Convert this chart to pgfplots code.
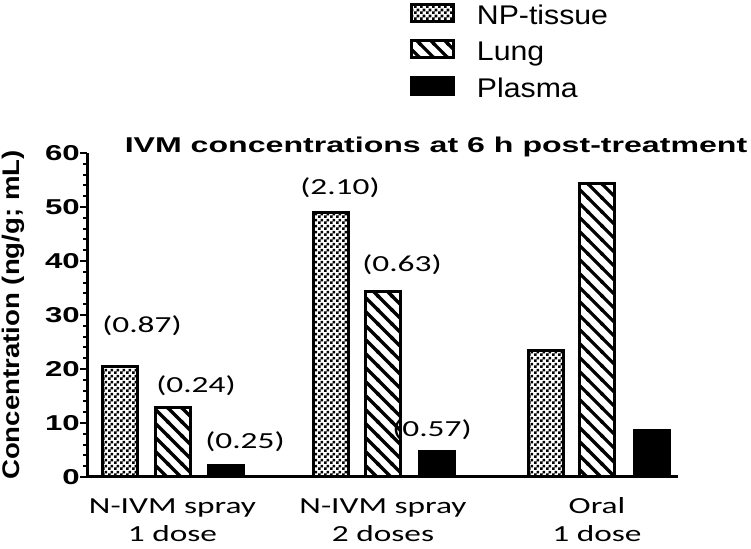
\documentclass[border=0pt]{standalone}
\usepackage{fontspec}
\usepackage{pgfplots}
\pgfplotsset{compat=1.18}
\usetikzlibrary{patterns}
\setmainfont{Liberation Sans}
\newfontfamily\titlef[FakeStretch=1.5]{Liberation Sans}
\newfontfamily\tickf[FakeStretch=1.45]{Liberation Sans}
\newfontfamily\ylabf[FakeStretch=1.15]{Liberation Sans}
\newfontfamily\legf[FakeStretch=1.12]{Liberation Sans}
\newfontfamily\calf[FakeStretch=1.45]{Carlito}

% fine checkerboard (NP-tissue)
\pgfdeclarepatternformonly{checks}{\pgfpointorigin}{\pgfqpoint{6pt}{6pt}}{\pgfqpoint{6pt}{6pt}}{%
  \pgfpathrectangle{\pgfpointorigin}{\pgfqpoint{3pt}{3pt}}%
  \pgfpathrectangle{\pgfqpoint{3pt}{3pt}}{\pgfqpoint{3pt}{3pt}}%
  \pgfusepath{fill}}
% thick back-slash hatching (Lung)
\pgfdeclarepatternformonly{thicknw}{\pgfqpoint{-2pt}{-2pt}}{\pgfqpoint{16pt}{16pt}}{\pgfqpoint{14pt}{14pt}}{%
  \pgfsetlinewidth{3.2pt}%
  \pgfpathmoveto{\pgfqpoint{-1pt}{15pt}}\pgfpathlineto{\pgfqpoint{15pt}{-1pt}}%
  \pgfpathmoveto{\pgfqpoint{-1pt}{1pt}}\pgfpathlineto{\pgfqpoint{1pt}{-1pt}}%
  \pgfpathmoveto{\pgfqpoint{13pt}{15pt}}\pgfpathlineto{\pgfqpoint{15pt}{13pt}}%
  \pgfusepath{stroke}}

\newcommand\annot{\calf\fontsize{23}{27}\selectfont}

\begin{document}
\begin{tikzpicture}
\useasboundingbox (0,0) rectangle (751pt,548pt);
\begin{axis}[
  at={(87pt,71pt)}, anchor=south west,
  scale only axis, width=591pt, height=324pt,
  xmin=87, xmax=678, ymin=0, ymax=60,
  clip=false,
  axis lines=left, axis line style={-, line width=3pt},
  ybar,
  ytick={0,10,...,60}, minor y tick num=4,
  tick align=outside, major tick length=7pt, minor tick length=4pt,
  tick style={black, line width=2pt},
  xtick={172.5,383,597},
  xticklabels={{N-IVM spray\vphantom{l}\\1 dose},{N-IVM spray\vphantom{l}\\2 doses},{Oral\vphantom{l}\\1 dose}},
  xtick style={draw=none},
  xticklabel style={align=center, font=\calf\fontsize{23}{28}\selectfont, inner sep=0pt, yshift=-13pt},
  yticklabel style={font=\tickf\bfseries\fontsize{21.5}{24}\selectfont, inner sep=0pt, xshift=0pt},
  /pgf/number format/assume math mode=true,
  legend image code/.code={\draw[#1, line width=3pt] (1.5pt,-4pt) rectangle (43.5pt,13pt);},
  legend style={at={(0.5465,1.463)}, anchor=north west, draw=none, fill=none,
    inner sep=0pt, outer sep=0pt, row sep=9pt,
    font=\legf\fontsize{27}{30}\selectfont,
    nodes={inner sep=0pt, text height=20pt, text depth=6pt},
    /tikz/every odd column/.append style={column sep=22pt}},
  legend cell align=left,
]
\addplot[bar width=35, bar shift=0pt, draw=black, line width=3pt, pattern=checks, pattern color=black]
  coordinates {(120,20.5) (330.5,48.9) (546,23.4)};
\addplot[bar width=35, bar shift=0pt, draw=black, line width=3pt, pattern=thicknw, pattern color=black]
  coordinates {(172.5,12.9) (383,34.4) (597,54.4)};
\addplot[bar width=35, bar shift=0pt, draw=black, line width=3pt, fill=black]
  coordinates {(226,2.1) (436.5,4.8) (651.5,8.6)};
\legend{NP-tissue,Lung,Plasma}

\node[font=\annot] at (axis cs:142,28.1) {(0.87)};
\node[font=\annot] at (axis cs:196,17.0) {(0.24)};
\node[font=\annot] at (axis cs:245,6.5) {(0.25)};
\node[font=\annot] at (axis cs:340,53.5) {(2.10)};
\node[font=\annot] at (axis cs:402,39.3) {(0.63)};
\node[font=\annot] at (axis cs:432,8.7) {(0.57)};

\node[font=\titlef\bfseries\fontsize{21.4}{24}\selectfont, anchor=base, inner sep=0pt]
  at (axis cs:436,60) {IVM concentrations at 6 h post-treatment};
\node[rotate=90, font=\ylabf\bfseries\fontsize{24}{26}\selectfont, inner sep=0pt]
  at (axis cs:13,30) {Concentration (ng/g; mL)};
\end{axis}
\end{tikzpicture}
\end{document}
